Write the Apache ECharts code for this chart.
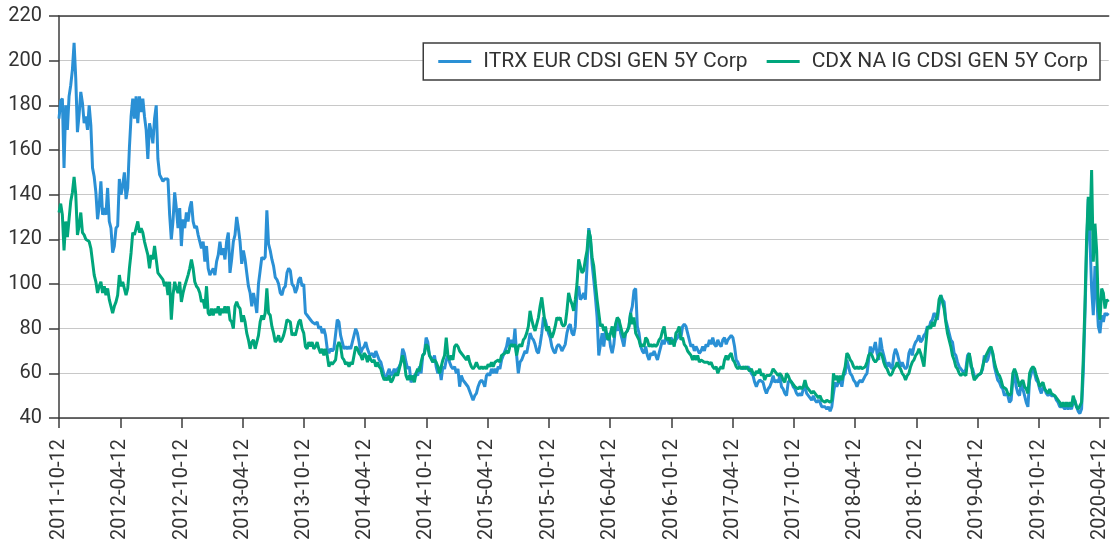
<!DOCTYPE html>
<html><head><meta charset="utf-8">
<script src="https://cdn.jsdelivr.net/npm/echarts@6/dist/echarts.min.js"></script>
<style>html,body{margin:0;padding:0;background:#fff}#c{width:1110px;height:547px}</style>
</head><body><div id="c"></div>
<script>
// ---- data ----
const startDate = '2011-10-12';   // first observation
const endDate = '2020-05-08';     // right end of the date axis
const stepDays = 5;               // spacing of the observations (days)
const tickLabels = ['2011-10-12','2012-04-12','2012-10-12','2013-04-12','2013-10-12','2014-04-12',
  '2014-10-12','2015-04-12','2015-10-12','2016-04-12','2016-10-12','2017-04-12','2017-10-12',
  '2018-04-12','2018-10-12','2019-04-12','2019-10-12','2020-04-12'];
const seriesNames = ['ITRX EUR CDSI GEN 5Y Corp', 'CDX NA IG CDSI GEN 5Y Corp'];
const itrx = [
174,182,183,152,180,169,184,189,196,208,192,168,176,186,181,172,175,169,180,171,
152,148,141,129,135,146,131,134,131,143,128,125,114,117,125,126,147,140,144,150,
138,143,161,175,183,174,184,172,184,177,183,175,169,156,172,168,163,174,180,156,
149,149,146,147,147,147,131,120,128,141,134,125,134,117,129,125,132,128,134,137,
128,125,126,122,119,116,119,110,117,107,104,104,107,104,110,113,119,113,116,111,
119,123,105,111,119,122,
130,125,119,109,115,111,105,99,96,90,96,92,87,100,106,112,111,112,133,118,
115,111,108,103,102,100,96,95,98,99,105,107,106,100,99,96,98,102,103,99,
100,87,86,85,84,83,83,82,83,80,81,78,80,77,71,69,71,70,71,71,
84,83,77,74,71,72,71,72,71,74,77,80,78,74,69,71,72,74,71,69,
68,69,67,70,68,66,65,62,59,57,60,62,59,60,62,60,62,63,65,71,69,65,62,63,
56,56,59,60,59,63,60,68,69,76,74,68,67,65,68,63,60,62,57,63,
62,66,68,65,63,62,63,60,62,54,59,57,56,56,54,52,50,48,50,51,
54,56,57,56,54,59,60,59,62,60,62,60,63,62,66,68,70,72,76,72,
75,72,80,68,60,65,66,68,70,69,73,78,76,75,73,70,69,73,78,85,
84,81,78,76,72,70,69,72,73,72,70,70,73,78,81,82,78,77,81,97,99,93,94,96,
93,108,125,120,109,102,94,85,68,73,78,72,79,75,78,72,69,73,81,79,
84,78,75,72,78,79,81,87,90,97,98,81,78,72,70,69,72,68,66,69,
68,70,68,66,69,72,75,73,76,75,73,76,75,73,75,76,78,76,81,82,
81,78,75,72,73,70,72,72,69,70,72,70,73,72,75,73,76,73,72,75,
73,72,75,76,73,75,76,77,76,72,66,65,63,63,62,63,62,63,62,60,59,56,54,56,57,
57,56,53,51,53,54,56,59,56,57,56,59,54,53,51,50,56,57,56,54,
53,51,50,51,50,53,54,51,50,49,48,50,48,47,48,47,45,45,45,44,
45,43,45,51,56,54,56,57,54,59,60,66,63,60,59,57,56,54,56,57,
56,56,59,60,66,72,69,71,74,69,66,76,71,68,65,63,65,63,62,68,
71,69,66,63,65,63,62,63,69,71,68,72,74,75,77,74,75,77,78,81,80,83,84,87,
87,84,90,95,93,92,84,81,78,75,74,69,68,65,63,62,62,60,62,68,
69,63,62,59,58,59,59,60,62,68,65,66,69,71,69,63,60,57,56,54,
53,50,51,50,47,48,57,60,54,51,50,56,53,50,47,45,57,60,62,60,
57,56,53,51,54,53,51,50,51,50,50,50,48,47,45,45,45,44,45,44,
45,44,47,48,45,43,42,44,60,85,115,138,120,98,86,108,95,81,78,86,83,87,86,87
];
const cdx = [
132,136,131,115,128,121,129,137,141,148,140,122,126,132,123,122,120,120,119,116,
110,104,101,96,99,101,96,99,95,98,93,90,87,90,92,95,104,99,101,101,
95,98,107,114,123,122,125,128,123,125,123,119,116,113,107,113,111,117,111,105,
104,104,102,99,101,95,101,84,95,101,98,96,101,92,96,99,99,104,107,111,
107,101,99,98,96,92,93,89,99,87,86,89,86,89,87,90,86,89,87,90,
87,90,84,83,80,90,
92,90,89,83,86,83,78,75,71,74,75,71,74,77,83,86,84,87,98,87,
86,81,78,74,75,77,74,75,77,80,84,84,83,77,78,77,80,83,84,80,
78,72,71,74,72,74,71,72,74,71,69,71,68,71,68,63,65,64,65,66,
72,74,72,67,66,64,65,63,65,64,68,72,71,69,68,66,69,68,65,68,
66,65,66,63,65,63,62,59,57,58,57,59,56,57,59,60,59,62,65,68,65,59,57,59,
57,59,56,60,62,61,65,68,69,73,72,68,68,65,66,65,63,60,63,66,
68,76,68,66,68,66,72,73,72,70,69,68,68,66,68,65,63,62,63,65,
63,62,63,62,63,62,64,63,65,63,65,65,66,65,68,68,69,70,69,72,
73,72,73,68,72,73,72,75,76,78,81,88,84,81,79,82,85,90,94,88,
82,79,81,78,76,78,81,85,84,85,82,81,82,88,96,93,91,88,93,100,111,108,105,106,
111,115,124,121,112,108,100,93,87,81,82,79,81,76,75,78,81,76,82,85,
84,81,78,76,78,79,81,87,82,85,78,78,75,72,73,72,76,75,72,73,
72,73,72,73,75,76,79,81,76,75,76,73,75,72,78,79,81,75,76,73,
72,70,69,68,66,68,66,68,65,66,66,65,65,65,64,65,63,62,63,60,
62,63,62,66,68,66,68,69,66,65,63,62,63,62,63,62,63,62,61,62,60,59,61,60,62,
59,60,57,59,59,59,60,62,62,60,59,60,59,57,56,60,59,57,56,56,
54,54,53,54,53,54,57,54,53,52,51,52,51,50,49,50,48,48,47,48,
48,47,48,60,57,59,56,59,57,60,63,69,68,66,65,63,62,63,62,63,
62,62,63,65,68,69,68,66,65,66,68,69,68,65,63,62,60,59,60,62,
63,65,63,62,60,59,57,59,60,63,65,66,68,69,71,69,66,63,72,80,81,80,83,81,
84,86,93,95,92,89,83,78,75,72,68,66,63,62,60,59,60,60,59,66,
69,65,60,57,58,59,59,60,63,66,68,68,71,72,69,65,62,60,59,57,
54,54,53,51,50,51,60,62,60,57,54,56,57,54,53,51,60,62,63,62,
59,57,54,54,56,53,53,51,53,51,51,50,50,48,47,45,47,45,47,45,
47,45,50,50,45,44,44,47,66,90,120,139,124,151,110,127,115,90,84,98,96,89,93,92
];

// ---- chart ----
const DAY = 86400000;
const utc = s => Date.parse(s + 'T00:00:00Z');
const t0 = utc(startDate);
const toPairs = arr => arr.map((v, i) => [t0 + i * stepDays * DAY, v]);
const tickTimes = tickLabels.map(utc);
const pad = n => (n < 10 ? '0' : '') + n;
const fmt = v => { const d = new Date(v); return d.getUTCFullYear() + '-' + pad(d.getUTCMonth() + 1) + '-' + pad(d.getUTCDate()); };

const FONT = 'Roboto';
const TXT = '#333333';
const AX = '#3c3c3c';
const chart = echarts.init(document.getElementById('c'), null, {renderer: 'canvas'});
chart.setOption({
  animation: false,
  backgroundColor: '#ffffff',
  textStyle: {fontFamily: FONT},
  grid: {left: 59, right: 0, top: 16, bottom: 129},
  legend: {
    right: 10, top: 43,
    icon: 'rect', itemWidth: 33, itemHeight: 3, itemGap: 19,
    padding: [8, 12, 8, 15],
    borderColor: AX, borderWidth: 1.5, backgroundColor: '#ffffff',
    textStyle: {fontFamily: FONT, fontSize: 21, color: TXT, lineHeight: 21, padding: [0, 0, 0, 7]},
    data: seriesNames
  },
  xAxis: [{
    type: 'value',
    min: utc(startDate), max: utc(endDate),
    axisLine: {show: true, lineStyle: {color: AX, width: 1.5}},
    axisTick: {show: true, length: 10, lineStyle: {color: AX, width: 1.5}, customValues: tickTimes},
    axisLabel: {customValues: tickTimes, rotate: 90, margin: 21, fontFamily: FONT, fontSize: 20, color: TXT, formatter: v => fmt(v)},
    splitLine: {show: false}
  }, {
    type: 'value', position: 'top',
    min: utc(startDate), max: utc(endDate),
    axisLine: {show: true, lineStyle: {color: AX, width: 1.5}},
    axisTick: {show: false}, axisLabel: {show: false}, splitLine: {show: false}
  }],
  yAxis: {
    type: 'value', min: 40, max: 220, interval: 20,
    axisLine: {show: true, lineStyle: {color: AX, width: 1.5}},
    axisTick: {show: true, length: 10, lineStyle: {color: AX, width: 1.5}},
    axisLabel: {margin: 17, fontFamily: FONT, fontSize: 20, color: TXT},
    splitLine: {show: true, lineStyle: {color: '#c8c8c8', width: 1.2}}
  },
  series: [
    {name: seriesNames[0], type: 'line', data: toPairs(itrx), showSymbol: false, symbol: 'none',
     color: '#2a90d5', lineStyle: {width: 3, color: '#2a90d5'}},
    {name: seriesNames[1], type: 'line', data: toPairs(cdx), showSymbol: false, symbol: 'none',
     color: '#00a67c', lineStyle: {width: 3, color: '#00a67c'}}
  ]
});
</script></body></html>
